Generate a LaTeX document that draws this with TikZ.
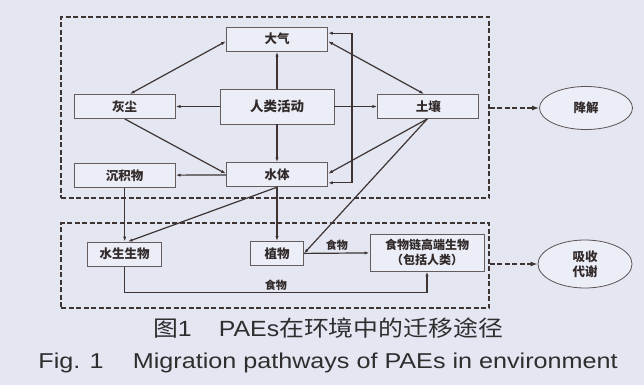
\documentclass[tikz,border=0pt]{standalone}
\usepackage{fontspec}
\setmainfont{Liberation Sans}
\newfontfamily\cjk{Noto Sans CJK SC}
\usetikzlibrary{arrows.meta, positioning, shapes.geometric}

\definecolor{bgcol}{RGB}{228,230,242}
\definecolor{boxfill}{RGB}{235,237,247}
\definecolor{linecol}{RGB}{62,52,52}
\definecolor{txtcol}{RGB}{50,42,42}

\begin{document}
\begin{tikzpicture}[
  x=1pt, y=-1pt,
  node distance=40pt,
  box/.style={draw=linecol!80, fill=boxfill, line width=0.8pt, minimum width=101pt, minimum height=24pt,
    inner sep=1pt, align=center, text=txtcol, font=\cjk\bfseries\fontsize{12.5}{15}\selectfont},
  oval/.style={ellipse, draw=linecol!85, line width=0.8pt, fill=boxfill, align=center, text=txtcol,
    font=\cjk\bfseries\fontsize{12.5}{15}\selectfont},
  frame/.style={draw=linecol, line width=1.6pt, dash pattern=on 5pt off 2.5pt},
  arrow/.style={-{Latex[length=5pt,width=3.2pt]}, line width=1.2pt, draw=linecol},
  biarrow/.style={{Latex[length=5pt,width=3.2pt]}-{Latex[length=5pt,width=3.2pt]}, line width=1.2pt, draw=linecol},
  dasharrow/.style={-{Latex[length=7pt,width=5pt]}, line width=1.8pt, draw=linecol, dash pattern=on 5pt off 2.5pt},
  lbl/.style={inner sep=1.5pt, text=txtcol, font=\cjk\bfseries\fontsize{11}{13}\selectfont}
]
\fill[bgcol] (0,0) rectangle (644,385);
\useasboundingbox (0,0) rectangle (644,385);

% the two compartments
\node[frame, minimum width=428pt, minimum height=181pt] (upper) at (275,107.5) {};
\node[frame, minimum width=428pt, minimum height=85pt] (lower) at (275,265.5) {};

% environment
\node[box, minimum width=114pt, minimum height=35pt, font=\cjk\bfseries\fontsize{13.5}{15}\selectfont] (act) at (277,106.5) {人类活动};
\node[box, above=37pt of act] (atm) {大气};
\node[box, below=38pt of act] (water) {水体};
\node[box, left=44pt of act] (dust) {灰尘};
\node[box, right=43pt of act] (soil) {土壤};
\node[box, below=44pt of dust] (sed) {沉积物};

% organisms
\node[box, minimum width=74pt, below=54pt of sed] (aqua) {水生生物};
\node[box, minimum width=53pt, below=54pt of water] (plant) {植物};
\node[box, minimum width=114pt, minimum height=37pt, font=\cjk\bfseries\fontsize{12}{15}\selectfont] (food) at (427,252.5) {食物链高端生物\\（包括人类）};

% sinks
\node[oval, minimum width=93pt, minimum height=43pt] (deg) at (586,108) {降解};
\node[oval, minimum width=94pt, minimum height=48pt] (meta) at (585,264) {吸收\\代谢};

\draw[arrow] (act) -- (atm);
\draw[arrow] (act) -- (dust);
\draw[arrow] (act) -- (soil);
\draw[arrow] (act) -- (water);
\draw[arrow] (water) -- (sed);
\draw[biarrow] ([xshift=5pt]dust.north) -- ([yshift=-2pt]atm.west);
\draw[arrow] (dust.south) -- ([yshift=1pt]water.west);
\draw[biarrow] ([yshift=-2pt]atm.east) -- ([xshift=-4pt]soil.north);
\draw[arrow] ([xshift=-1pt]soil.south) -- ([yshift=1pt]water.east);
\draw[biarrow] ([yshift=6pt]atm.east) -- ++(24,0) |- ([yshift=-8pt]water.east);

\draw[arrow] (sed) -- (aqua);
\draw[arrow] (water.south) -- ([xshift=3pt]aqua.north);
\draw[arrow] (water) -- (plant);
\draw[arrow] ([xshift=-1pt]soil.south) -- (plant.east);
\draw[arrow] (plant) -- node[lbl, above] {食物} (food);
\draw[arrow] (aqua.south) -- ++(0,26) -| node[lbl, above, pos=0.25] {食物} (food.south);

\draw[dasharrow] (upper.east |- deg) -- (deg);
\draw[dasharrow] (lower.east |- meta) -- (meta);

% caption
\node[text=black!82, font=\fontsize{22}{24}\selectfont] (capcn) at (328,328)
  {\scalebox{1.13}[1]{{\cjk 图}1\hspace{24pt}PAEs{\cjk 在环境中的迁移途径}}};
\node[text=black!82, font=\fontsize{21.5}{24}\selectfont] (capen) at (328,363)
  {\scalebox{1.17}[1]{Fig. 1\hspace{25pt}Migration pathways of PAEs in environment}};
\end{tikzpicture}
\end{document}
